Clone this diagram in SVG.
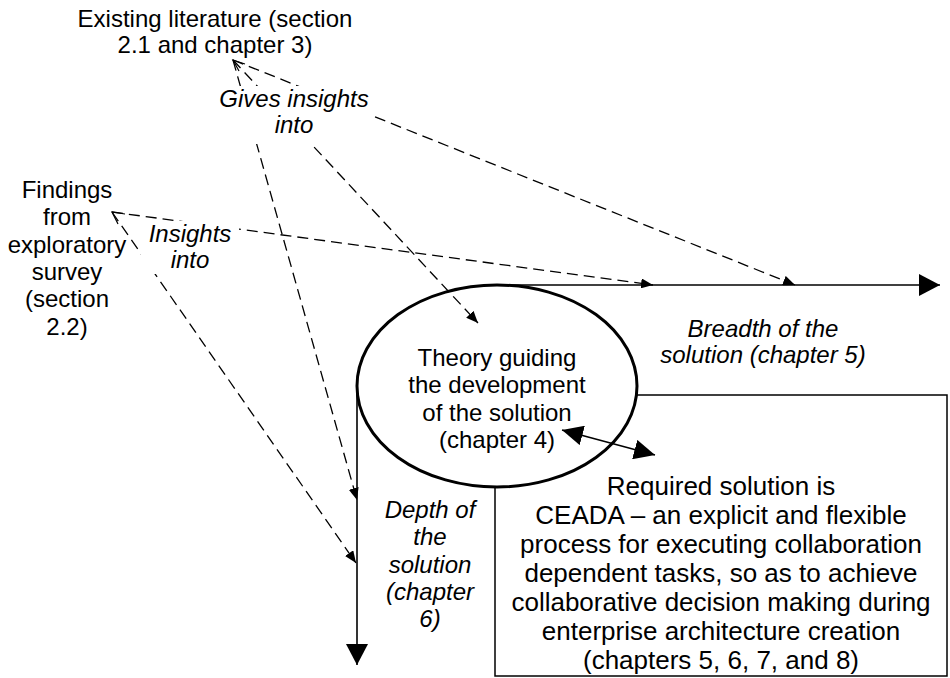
<svg xmlns="http://www.w3.org/2000/svg" width="950" height="678" viewBox="0 0 950 678">
  <style>
    .t { font-family: "Liberation Sans", Arial, sans-serif; font-size: 24px; fill: #000; text-anchor: middle; }
    .it { font-style: italic; }
    .big { font-size: 26px; }
    .dash { fill: none; stroke: #000; stroke-width: 1.3; stroke-dasharray: 11 6; }
    .solid { fill: none; stroke: #000; stroke-width: 1.6; }
    .chev { fill: none; stroke: #000; stroke-width: 1.2; }
    .bg { fill: #fff; stroke: none; }
  </style>
  <defs>
    <marker id="small" markerUnits="userSpaceOnUse" markerWidth="12" markerHeight="10" refX="12" refY="5" orient="auto">
      <path d="M0,0 L12,5 L0,10 z" fill="#000"/>
    </marker>
    <marker id="big" markerUnits="userSpaceOnUse" markerWidth="21" markerHeight="22" refX="21" refY="11" orient="auto">
      <path d="M0,0 L21,11 L0,22 z" fill="#000"/>
    </marker>
    <marker id="mid" markerUnits="userSpaceOnUse" markerWidth="21" markerHeight="20" refX="21" refY="10" orient="auto-start-reverse">
      <path d="M0,0 L21,10 L0,20 z" fill="#000"/>
    </marker>
  </defs>

  <!-- source texts -->
  <g id="literature">
    <text class="t" x="215" y="27">Existing literature (section</text>
    <text class="t" x="215" y="53">2.1 and chapter 3)</text>
  </g>
  <g id="findings">
    <text class="t" x="67" y="198">Findings</text>
    <text class="t" x="67" y="225">from</text>
    <text class="t" x="67" y="252.5">exploratory</text>
    <text class="t" x="67" y="280">survey</text>
    <text class="t" x="67" y="307">(section</text>
    <text class="t" x="67" y="334.5">2.2)</text>
  </g>

  <!-- required solution box, partly hidden behind the theory ellipse -->
  <g id="solution">
    <rect x="495" y="395" width="452" height="281" fill="#fff" stroke="#000" stroke-width="1.5"/>
    <text class="t big" x="721" y="495">Required solution is</text>
    <text class="t big" x="721" y="524">CEADA – an explicit and flexible</text>
    <text class="t big" x="721" y="553">process for executing collaboration</text>
    <text class="t big" x="721" y="582">dependent tasks, so as to achieve</text>
    <text class="t big" x="721" y="611">collaborative decision making during</text>
    <text class="t big" x="721" y="640">enterprise architecture creation</text>
    <text class="t big" x="721" y="669">(chapters 5, 6, 7, and 8)</text>
  </g>

  <g id="theory">
    <ellipse cx="497" cy="386" rx="140" ry="101" fill="#fff" stroke="#000" stroke-width="3"/>
    <text class="t" x="497" y="366">Theory guiding</text>
    <text class="t" x="497" y="393">the development</text>
    <text class="t" x="497" y="421">of the solution</text>
    <text class="t" x="497" y="448">(chapter 4)</text>
  </g>

  <g id="breadth">
    <text class="t it" x="763" y="337">Breadth of the</text>
    <text class="t it" x="763" y="363">solution (chapter 5)</text>
  </g>
  <g id="depth">
    <text class="t it" x="430" y="518">Depth of</text>
    <text class="t it" x="430" y="545">the</text>
    <text class="t it" x="430" y="572.5">solution</text>
    <text class="t it" x="430" y="600">(chapter</text>
    <text class="t it" x="430" y="627">6)</text>
  </g>

  <g id="connectors">
    <!-- axes of the solution -->
    <line class="solid" x1="497" y1="285" x2="940" y2="285" marker-end="url(#big)"/>
    <line class="solid" x1="357" y1="390" x2="357" y2="665" marker-end="url(#big)"/>
    <line class="solid" x1="562" y1="430" x2="655" y2="455" marker-start="url(#mid)" marker-end="url(#mid)"/>

    <!-- insights from literature -->
    <line class="dash" x1="233" y1="60" x2="357" y2="500" marker-end="url(#small)"/>
    <line class="dash" x1="233" y1="60" x2="478" y2="323" marker-end="url(#small)"/>
    <line class="dash" x1="233" y1="60" x2="795" y2="285" marker-end="url(#small)"/>
    <path class="chev" d="M245,64 L233,60 L239,71"/>

    <!-- insights from survey -->
    <line class="dash" x1="112" y1="212" x2="653" y2="285" marker-end="url(#small)"/>
    <line class="dash" x1="112" y1="212" x2="356" y2="563" marker-end="url(#small)"/>
    <path class="chev" d="M125,214 L112,212 L118,224"/>

    <!-- edge labels -->
    <g id="label-gives">
      <rect class="bg" x="218" y="86" width="153" height="58"/>
      <text class="t it" x="294" y="107">Gives insights</text>
      <text class="t it" x="294" y="133">into</text>
    </g>
    <g id="label-insights">
      <rect class="bg" x="141" y="221" width="98" height="53"/>
      <text class="t it" x="190" y="242">Insights</text>
      <text class="t it" x="190" y="268">into</text>
    </g>
  </g>
</svg>
